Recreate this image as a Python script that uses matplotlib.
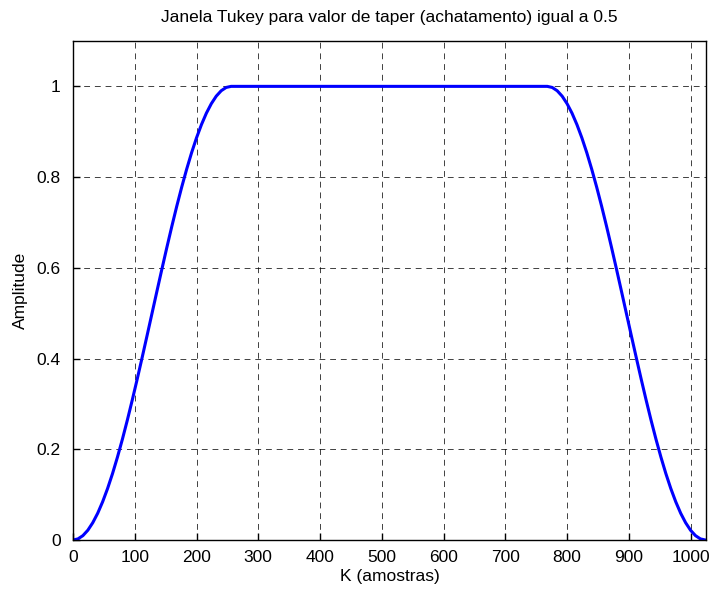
import matplotlib
matplotlib.use("Agg")
import matplotlib.pyplot as plt

plt.rcParams['font.family'] = ['Liberation Sans', 'DejaVu Sans']

# Samples (rise 0..256, flat, fall 768..1024)
k_samples = [0, 8, 16, 24, 32, 40, 48, 56, 64, 72, 80, 88, 96, 104, 112, 120, 128,
             136, 144, 152, 160, 168, 176, 184, 192, 200, 208, 216, 224, 232, 240, 248, 256,
             768, 776, 784, 792, 800, 808, 816, 824, 832, 840, 848, 856, 864, 872, 880, 888,
             896, 904, 912, 920, 928, 936, 944, 952, 960, 968, 976, 984, 992, 1000, 1008, 1016, 1024]
amplitude = [0.0, 0.0024, 0.0096, 0.0215, 0.0381, 0.0590, 0.0843, 0.1135, 0.1464, 0.1828,
             0.2222, 0.2643, 0.3087, 0.3549, 0.4025, 0.4510, 0.5,
             0.5490, 0.5975, 0.6451, 0.6913, 0.7357, 0.7778, 0.8172, 0.8536, 0.8865,
             0.9157, 0.9410, 0.9619, 0.9785, 0.9904, 0.9976, 1.0,
             1.0, 0.9976, 0.9904, 0.9785, 0.9619, 0.9410, 0.9157, 0.8865, 0.8536, 0.8172,
             0.7778, 0.7357, 0.6913, 0.6451, 0.5975, 0.5490, 0.5,
             0.4510, 0.4025, 0.3549, 0.3087, 0.2643, 0.2222, 0.1828, 0.1464, 0.1135,
             0.0843, 0.0590, 0.0381, 0.0215, 0.0096, 0.0024, 0.0]
x_ticks = [0, 100, 200, 300, 400, 500, 600, 700, 800, 900, 1000]
y_ticks = [0, 0.2, 0.4, 0.6, 0.8, 1]
y_tick_labels = ['0', '0.2', '0.4', '0.6', '0.8', '1']

fig = plt.figure(figsize=(7.13, 5.92), dpi=100)
ax = fig.add_axes([73/713, 1-540/592, 633/713, 499/592])
ax.plot(k_samples, amplitude, color=(0, 0, 1), linewidth=2.2)
ax.set_xlim(0, 1025)
ax.set_ylim(0, 1.1)
ax.set_xticks(x_ticks)
ax.set_yticks(y_ticks)
ax.set_yticklabels(y_tick_labels)
ax.tick_params(direction='in', length=5, width=1, labelsize=12.5,
               top=False, right=False)
ax.tick_params(axis='x', pad=7)
ax.tick_params(axis='y', pad=9)
ax.grid(True, color='black', linestyle=(0, (6, 5)), linewidth=0.7, alpha=0.75)
for s in ax.spines.values():
    s.set_linewidth(1)
ax.set_xlabel('K (amostras)', fontsize=12.5, labelpad=3)
ax.set_ylabel('Amplitude', fontsize=12.5, labelpad=6)
ax.set_title('Janela Tukey para valor de taper (achatamento) igual a 0.5', fontsize=12.5, pad=14)
fig.savefig('out.png', dpi=100)
